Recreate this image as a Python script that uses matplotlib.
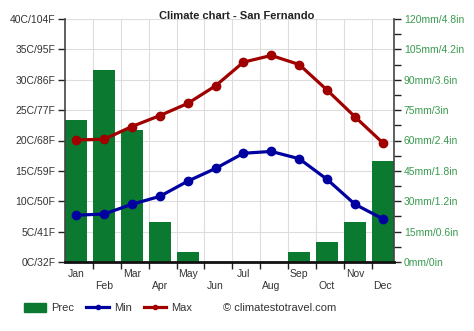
import matplotlib
matplotlib.use("Agg")
import matplotlib.pyplot as plt
from matplotlib.lines import Line2D
from matplotlib.patches import Patch
import numpy as np

months = ["Jan", "Feb", "Mar", "Apr", "May", "Jun", "Jul", "Aug", "Sep", "Oct", "Nov", "Dec"]
prec = [70, 95, 65, 20, 5, 0, 0, 0, 5, 10, 20, 50]
tmin = [7.7, 7.9, 9.5, 10.8, 13.3, 15.4, 17.9, 18.2, 17.0, 13.6, 9.5, 7.1]
tmax = [20.1, 20.2, 22.3, 24.1, 26.1, 29.0, 32.9, 34.0, 32.5, 28.3, 23.9, 19.6]
left_labels = ["0C/32F", "5C/41F", "10C/50F", "15C/59F", "20C/68F", "25C/77F", "30C/86F", "35C/95F", "40C/104F"]
right_labels = ["0mm/0in", "15mm/0.6in", "30mm/1.2in", "45mm/1.8in", "60mm/2.4in", "75mm/3in", "90mm/3.6in", "105mm/4.2in", "120mm/4.8in"]

plt.rcParams['font.family'] = ['Liberation Sans', 'DejaVu Sans']
plt.rcParams['font.size'] = 7.5

GREEN = '#0b7a30'
BLUE = '#0000a0'
RED = '#a00000'
TXT = '#333333'

fig = plt.figure(figsize=(4.74, 3.31), dpi=100)
ax = fig.add_axes([65/474, 1-262/331, (394-65)/474, (262-19)/331])
ax2 = ax.twinx()

x = np.arange(12)
ax2.bar(x, prec, width=0.8, color=GREEN, zorder=2)
ax2.set_ylim(0, 120)
ax.set_ylim(0, 40)
ax.set_xlim(-0.4, 11.4)

ax.set_zorder(ax2.get_zorder() + 1)
ax.patch.set_visible(False)
ax2.patch.set_visible(True)
ax2.patch.set_facecolor('white')

ax.plot(x, tmin, color=BLUE, lw=2.3, marker='o', ms=6, zorder=3)
ax.plot(x, tmax, color=RED, lw=2.3, marker='o', ms=6, zorder=3)

for yv in range(0, 121, 15):
    ax2.axhline(yv, color='#dddddd', lw=0.8, zorder=0)
for b in np.arange(0.6, 11.5, 1.0):
    ax2.axvline(b, color='#dddddd', lw=0.8, zorder=0)

ax.set_yticks(range(0, 41, 5))
ax.set_yticklabels(left_labels, color=TXT)
ax2.set_yticks(range(0, 121, 15))
ax2.set_yticklabels(right_labels, color='#3a9a50')
ax2.set_yticks(np.arange(7.5, 120, 15), minor=True)

ax.set_xticks(np.arange(0.6, 11, 1.0))
ax.set_xticklabels([])
ax.set_xticks(x, minor=True)
ax.set_xticklabels([m if i % 2 == 0 else "\n" + m for i, m in enumerate(months)], minor=True, color=TXT)
ax.tick_params(axis='x', which='minor', length=0, pad=5)
ax.tick_params(axis='x', which='major', length=5, width=1, color='#222222')
ax.tick_params(axis='y', length=5, width=1, color='#222222', pad=2)
ax2.tick_params(axis='y', which='both', length=5, width=1, color='#222222', pad=2)

for a in (ax, ax2):
    a.spines['top'].set_visible(False)
ax.spines['left'].set_color('#444444')
ax.spines['left'].set_linewidth(1.2)
ax.spines['bottom'].set_linewidth(2)
ax.spines['bottom'].set_color('#111111')
ax2.spines['right'].set_color('#444444')
ax2.spines['right'].set_linewidth(1.2)
ax2.spines['bottom'].set_visible(False)
ax2.spines['left'].set_visible(False)
ax.spines['right'].set_visible(False)

fig.text(237/474, 1-16/331, "Climate chart - San Fernando", ha='center', va='center',
         fontsize=8, fontweight='bold', color='#222222')

handles = [Patch(color=GREEN), Line2D([], [], color=BLUE, lw=2.3, marker='o', ms=3),
           Line2D([], [], color=RED, lw=2.3, marker='o', ms=3)]
fig.legend(handles, ["Prec", "Min", "Max"], loc='center left', bbox_to_anchor=(14/474, 1-308/331),
           ncol=3, frameon=False, handlelength=2.0, handleheight=0.9, columnspacing=1.1,
           handletextpad=0.45, fontsize=8, labelcolor=TXT)
fig.text(223/474, 1-308/331, "\u00a9 climatestotravel.com", ha='left', va='center', fontsize=8, color=TXT)

fig.savefig("out.png", dpi=100)
